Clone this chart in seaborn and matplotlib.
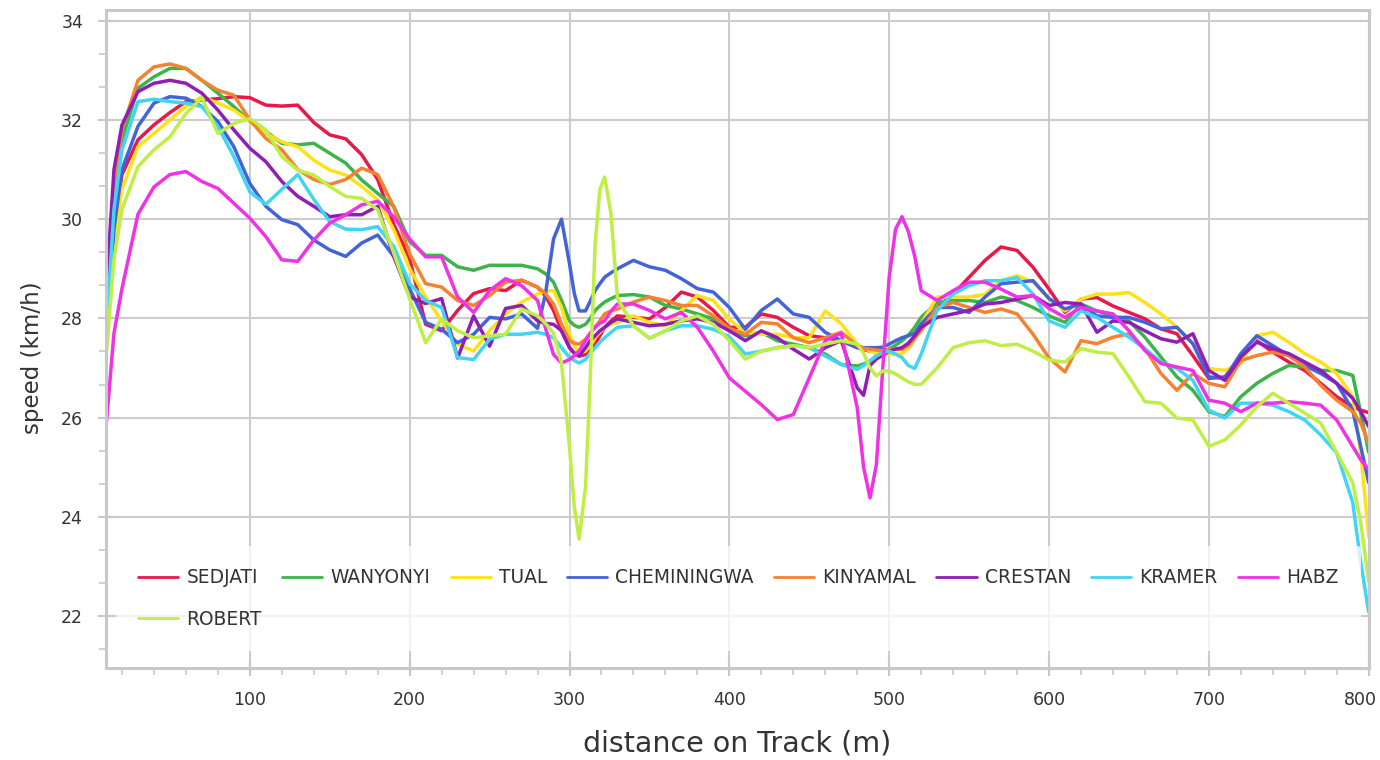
import numpy as np
import pandas as pd
import matplotlib
matplotlib.use("Agg")
import matplotlib.pyplot as plt
from matplotlib.ticker import MultipleLocator, AutoMinorLocator
from matplotlib.transforms import ScaledTranslation
import seaborn as sns

# === Data ===
DIST = [10, 15, 20, 30, 40, 50, 60, 70, 80, 90,
        100, 110, 120, 130, 140, 150, 160, 170, 180, 190,
        200, 210, 220, 230, 240, 250, 260, 270, 280, 285,
        290, 295, 300, 303, 306, 310, 313, 316, 319, 322,
        326, 330, 340, 350, 360, 370, 380, 390, 400, 410,
        420, 430, 440, 450, 460, 470, 480, 484, 488, 492,
        496, 500, 504, 508, 512, 516, 520, 530, 540, 550,
        560, 570, 580, 590, 600, 610, 620, 630, 640, 650,
        660, 670, 680, 690, 700, 710, 720, 730, 740, 750,
        760, 770, 780, 790, 795, 800]

SEDJATI = [27.8, 29.8, 30.9, 31.6, 31.9, 32.15, 32.37, 32.4, 32.43, 32.47,
           32.45, 32.3, 32.28, 32.3, 31.95, 31.7, 31.62, 31.3, 30.8, 29.9,
           29.2, 27.88, 27.75, 28.16, 28.5, 28.6, 28.56, 28.77, 28.63, 28.45,
           28.16, 27.75, 27.41, 27.3, 27.24, 27.27, 27.35, 27.48, 27.65, 27.82,
           27.95, 28.05, 28.02, 27.99, 28.22, 28.53, 28.43, 28.16, 27.82, 27.82,
           28.09, 28.02, 27.82, 27.65, 27.61, 27.55, 27.41, 27.37, 27.34, 27.32,
           27.31, 27.38, 27.38, 27.38, 27.4, 27.6, 27.82, 28.22, 28.49, 28.83,
           29.17, 29.44, 29.37, 29.03, 28.59, 28.12, 28.39, 28.42, 28.25, 28.12,
           27.99, 27.79, 27.69, 27.25, 26.79, 26.82, 27.22, 27.55, 27.32, 27.12,
           26.95, 26.69, 26.42, 26.22, 26.15, 26.1]

WANYONYI = [27.8, 30.4, 31.6, 32.64, 32.87, 33.04, 33.04, 32.8, 32.54, 32.27,
            31.97, 31.77, 31.53, 31.5, 31.53, 31.33, 31.13, 30.79, 30.52, 30.26,
            29.55, 29.27, 29.27, 29.04, 28.97, 29.07, 29.07, 29.07, 29.0, 28.9,
            28.73, 28.36, 27.95, 27.86, 27.82, 27.88, 28.0, 28.16, 28.25, 28.33,
            28.4, 28.46, 28.48, 28.43, 28.26, 28.19, 28.09, 27.99, 27.76, 27.65,
            27.72, 27.55, 27.48, 27.41, 27.28, 27.07, 27.04, 27.08, 27.14, 27.25,
            27.34, 27.38, 27.46, 27.55, 27.66, 27.82, 28.02, 28.32, 28.36, 28.36,
            28.32, 28.43, 28.36, 28.22, 28.05, 27.92, 28.29, 28.15, 28.05, 27.95,
            27.62, 27.22, 26.82, 26.55, 26.12, 26.02, 26.42, 26.69, 26.89, 27.05,
            27.02, 26.95, 26.95, 26.85, 26.1, 25.3]

TUAL = [27.4, 29.6, 30.6, 31.46, 31.73, 32.0, 32.27, 32.47, 32.34, 32.2,
        31.97, 31.73, 31.56, 31.46, 31.19, 30.99, 30.89, 30.66, 30.39, 29.79,
        29.0, 28.43, 27.95, 27.48, 27.34, 27.75, 28.09, 28.33, 28.49, 28.55,
        28.56, 28.22, 27.68, 27.45, 27.31, 27.34, 27.45, 27.61, 27.72, 27.82,
        27.88, 27.92, 28.05, 27.92, 27.85, 28.16, 28.46, 28.36, 27.98, 27.72,
        27.68, 27.68, 27.61, 27.61, 28.15, 27.89, 27.48, 27.4, 27.34, 27.3,
        27.28, 27.28, 27.28, 27.28, 27.4, 27.6, 27.89, 28.43, 28.43, 28.43,
        28.49, 28.76, 28.86, 28.73, 28.4, 28.15, 28.39, 28.49, 28.49, 28.52,
        28.32, 28.09, 27.82, 27.49, 26.99, 26.95, 27.09, 27.65, 27.72, 27.52,
        27.29, 27.12, 26.89, 26.42, 25.3, 23.6]

CHEMININGWA = [27.5, 29.8, 31.0, 31.87, 32.34, 32.47, 32.44, 32.27, 31.97, 31.46,
               30.72, 30.26, 29.99, 29.89, 29.58, 29.38, 29.25, 29.52, 29.68, 29.25,
               28.6, 27.92, 27.78, 27.51, 27.68, 28.02, 27.99, 28.09, 27.8, 28.5,
               29.6, 30.0, 29.1, 28.5, 28.15, 28.15, 28.35, 28.56, 28.7, 28.83,
               28.92, 29.0, 29.17, 29.04, 28.97, 28.8, 28.6, 28.53, 28.22, 27.78,
               28.16, 28.39, 28.09, 28.02, 27.72, 27.55, 27.41, 27.41, 27.41, 27.41,
               27.42, 27.48, 27.55, 27.61, 27.65, 27.7, 27.89, 28.22, 28.22, 28.12,
               28.43, 28.7, 28.73, 28.76, 28.4, 28.19, 28.29, 28.05, 28.02, 28.02,
               27.92, 27.79, 27.82, 27.49, 26.82, 26.79, 27.29, 27.65, 27.45, 27.25,
               27.05, 26.89, 26.69, 26.15, 25.42, 24.69]

KINYAMAL = [28.0, 30.6, 31.8, 32.8, 33.07, 33.13, 33.04, 32.8, 32.6, 32.5,
            32.0, 31.63, 31.4, 31.0, 30.8, 30.7, 30.8, 31.03, 30.9, 30.25,
            29.3, 28.7, 28.63, 28.36, 28.26, 28.46, 28.73, 28.77, 28.63, 28.5,
            28.29, 27.88, 27.55, 27.5, 27.48, 27.58, 27.7, 27.82, 27.95, 28.09,
            28.15, 28.19, 28.33, 28.43, 28.36, 28.26, 28.26, 28.05, 27.8, 27.68,
            27.92, 27.89, 27.61, 27.51, 27.61, 27.72, 27.45, 27.4, 27.38, 27.36,
            27.34, 27.38, 27.38, 27.38, 27.45, 27.6, 27.75, 28.22, 28.32, 28.22,
            28.12, 28.19, 28.09, 27.68, 27.2, 26.92, 27.55, 27.49, 27.62, 27.69,
            27.39, 26.89, 26.55, 26.89, 26.69, 26.62, 27.15, 27.25, 27.32, 27.25,
            27.02, 26.65, 26.35, 26.12, 25.89, 25.49]

CRESTAN = [28.5, 31.0, 31.9, 32.57, 32.74, 32.8, 32.74, 32.54, 32.2, 31.8,
           31.43, 31.16, 30.76, 30.46, 30.26, 30.05, 30.09, 30.09, 30.26, 29.25,
           28.43, 28.3, 28.4, 27.2, 28.05, 27.44, 28.2, 28.26, 27.95, 27.9,
           27.88, 27.75, 27.41, 27.3, 27.24, 27.41, 27.55, 27.65, 27.75, 27.82,
           27.92, 27.99, 27.92, 27.85, 27.88, 27.95, 27.99, 27.92, 27.75, 27.55,
           27.75, 27.61, 27.38, 27.18, 27.41, 27.55, 26.6, 26.45, 27.05, 27.18,
           27.26, 27.34, 27.38, 27.41, 27.5, 27.65, 27.82, 28.02, 28.09, 28.16,
           28.29, 28.32, 28.39, 28.46, 28.26, 28.32, 28.29, 27.72, 27.95, 27.92,
           27.75, 27.59, 27.52, 27.69, 26.95, 26.75, 27.22, 27.52, 27.39, 27.29,
           27.12, 26.95, 26.69, 26.39, 26.12, 25.82]

KRAMER = [27.6, 30.2, 31.4, 32.37, 32.42, 32.37, 32.34, 32.27, 31.87, 31.26,
          30.55, 30.3, 30.6, 30.9, 30.4, 29.95, 29.8, 29.79, 29.85, 29.45,
          28.7, 28.36, 28.22, 27.21, 27.17, 27.58, 27.68, 27.68, 27.72, 27.68,
          27.61, 27.41, 27.21, 27.15, 27.1, 27.17, 27.3, 27.41, 27.52, 27.61,
          27.72, 27.82, 27.85, 27.6, 27.75, 27.85, 27.85, 27.78, 27.63, 27.28,
          27.34, 27.41, 27.45, 27.41, 27.24, 27.07, 26.97, 27.05, 27.14, 27.24,
          27.31, 27.34, 27.28, 27.21, 27.05, 26.99, 27.28, 28.16, 28.49, 28.66,
          28.76, 28.76, 28.82, 28.49, 27.95, 27.82, 28.15, 28.02, 27.82, 27.62,
          27.39, 27.12, 26.99, 26.75, 26.15, 25.99, 26.29, 26.29, 26.25, 26.12,
          25.95, 25.65, 25.29, 24.29, 23.09, 22.08]

HABZ = [25.8, 27.7, 28.6, 30.1, 30.65, 30.9, 30.96, 30.76, 30.62, 30.32,
        30.02, 29.65, 29.18, 29.15, 29.58, 29.92, 30.09, 30.29, 30.36, 30.05,
        29.6, 29.24, 29.24, 28.43, 28.12, 28.56, 28.8, 28.66, 28.36, 27.8,
        27.27, 27.1, 27.17, 27.25, 27.34, 27.55, 27.7, 27.82, 27.9, 27.95,
        28.15, 28.29, 28.29, 28.16, 27.99, 28.12, 27.82, 27.34, 26.8, 26.53,
        26.26, 25.96, 26.06, 26.8, 27.55, 27.7, 26.2, 25.0, 24.38, 25.05,
        27.0, 28.83, 29.8, 30.05, 29.75, 29.25, 28.56, 28.36, 28.56, 28.73,
        28.73, 28.59, 28.43, 28.46, 28.2, 28.02, 28.22, 28.15, 28.09, 27.75,
        27.35, 27.09, 27.02, 26.95, 26.35, 26.29, 26.12, 26.29, 26.29, 26.32,
        26.29, 26.25, 25.95, 25.42, 25.15, 24.95]

ROBERT = [27.2, 29.2, 30.2, 31.06, 31.4, 31.66, 32.13, 32.45, 31.73, 31.93,
          32.03, 31.8, 31.26, 30.99, 30.89, 30.66, 30.46, 30.42, 30.19, 29.32,
          28.4, 27.51, 27.99, 27.75, 27.61, 27.65, 27.68, 28.19, 28.05, 27.9,
          27.7, 27.1, 25.4, 24.2, 23.55, 24.6, 26.8, 29.5, 30.6, 30.85,
          30.1, 28.4, 27.85, 27.6, 27.75, 27.95, 28.05, 27.88, 27.55, 27.18,
          27.34, 27.41, 27.45, 27.41, 27.48, 27.55, 27.48, 27.3, 27.0, 26.84,
          26.94, 26.94, 26.88, 26.8, 26.72, 26.67, 26.67, 27.0, 27.41, 27.51,
          27.55, 27.45, 27.48, 27.34, 27.16, 27.12, 27.39, 27.32, 27.29, 26.82,
          26.32, 26.29, 25.99, 25.95, 25.42, 25.55, 25.85, 26.22, 26.49, 26.29,
          26.09, 25.89, 25.29, 24.69, 23.89, 22.7]

RUNNERS = ["SEDJATI", "WANYONYI", "TUAL", "CHEMININGWA", "KINYAMAL",
           "CRESTAN", "KRAMER", "HABZ", "ROBERT"]
SPEEDS = [SEDJATI, WANYONYI, TUAL, CHEMININGWA, KINYAMAL,
          CRESTAN, KRAMER, HABZ, ROBERT]
COLORS = ["#e6194b", "#3cb44b", "#ffe119", "#4363d8", "#f58231",
          "#911eb4", "#42d4f4", "#f032e6", "#bfef45"]
X_TICKS = [100, 200, 300, 400, 500, 600, 700, 800]

# === Long-form table ===
frames = []
for name, values in zip(RUNNERS, SPEEDS):
    frames.append(pd.DataFrame({"distance": DIST, "speed": values, "runner": name}))
df = pd.concat(frames, ignore_index=True)

# === Style ===
sns.set_theme(style="whitegrid")
plt.rcParams["font.family"] = ["DejaVu Sans"]
GRID = "#cccccc"
TEXT = "#333333"

fig = plt.figure(figsize=(13.8, 7.6), dpi=100)
ax = fig.add_axes([0.0768, 0.121, 0.915, 0.866])

sns.lineplot(data=df, x="distance", y="speed", hue="runner",
             hue_order=RUNNERS, palette=dict(zip(RUNNERS, COLORS)),
             linewidth=2.5, sort=False, estimator=None, legend=False, ax=ax)
for ln in ax.lines:
    ln.set_solid_joinstyle("round")
    ln.set_solid_capstyle("round")

ax.set_xlim(10, 800)
ax.set_ylim(20.95, 34.22)
ax.set_xticks(X_TICKS)
ax.xaxis.set_minor_locator(AutoMinorLocator(5))
ax.yaxis.set_major_locator(MultipleLocator(2))
ax.yaxis.set_minor_locator(AutoMinorLocator(3))

ax.grid(True, which="major", color=GRID, linewidth=1.5)
ax.grid(False, which="minor")
for sp in ax.spines.values():
    sp.set_color("#c8c8c8")
    sp.set_linewidth(2.2)

ax.tick_params(which="major", direction="inout", length=11, width=1.5,
               color="#c8c8c8", labelsize=12.5, labelcolor=TEXT, pad=11)
ax.tick_params(which="minor", direction="out", length=5, width=1.2,
               color="#c8c8c8")
ax.tick_params(axis="x", which="both", bottom=True)
ax.tick_params(axis="y", which="both", left=True)

# keep the last x tick label inside the figure
last = ax.get_xticklabels()[-1]
last.set_horizontalalignment("right")
last.set_transform(last.get_transform() + ScaledTranslation(0.08, 0, fig.dpi_scale_trans))

ax.set_xlabel("distance on Track (m)", fontsize=20.5, color=TEXT)
ax.set_ylabel("speed (km/h)", fontsize=16.5, color=TEXT)
ax.xaxis.set_label_coords(0.5, -0.094)
ax.yaxis.set_label_coords(-0.049, 0.471)

# === Legend: row-major order for 8 columns ===
handles = [plt.Line2D([], [], color=c, linewidth=2) for c in COLORS]
order = [0, 8, 1, 2, 3, 4, 5, 6, 7]
leg = ax.legend([handles[i] for i in order], [RUNNERS[i] for i in order],
                ncol=8, loc="lower left", bbox_to_anchor=(0.008, 0.026),
                frameon=True, fontsize=13.4, handlelength=2.15,
                handletextpad=0.43, columnspacing=1.1, labelspacing=1.2,
                borderpad=1.2, borderaxespad=0)
leg.get_frame().set_facecolor("white")
leg.get_frame().set_alpha(0.75)
leg.get_frame().set_edgecolor("none")
for t in leg.get_texts():
    t.set_color(TEXT)

fig.savefig("out.png", dpi=100)
